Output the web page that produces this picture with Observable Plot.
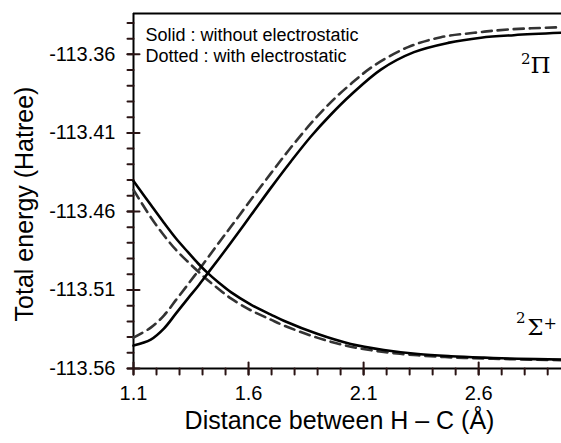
<!DOCTYPE html>
<html>
<head>
<meta charset="utf-8">
<script src="https://cdn.jsdelivr.net/npm/d3@7"></script>
<script src="https://cdn.jsdelivr.net/npm/@observablehq/plot@0.6"></script>
<style>
  html, body { margin: 0; padding: 0; background: #fff; }
</style>
</head>
<body>
<div id="chart"></div>
<script>
// Tick values
const xMajor = [1.1, 1.6, 2.1, 2.6];
const xMinor = [1.1, 1.2, 1.3, 1.4, 1.5, 1.6, 1.7, 1.8, 1.9, 2.0, 2.1, 2.2, 2.3, 2.4, 2.5, 2.6, 2.7, 2.8, 2.9];
const yMajor = [-113.56, -113.51, -113.46, -113.41, -113.36];
const yMinor = [-113.56, -113.55, -113.54, -113.53, -113.52, -113.51, -113.50, -113.49, -113.48, -113.47,
                -113.46, -113.45, -113.44, -113.43, -113.42, -113.41, -113.40, -113.39, -113.38, -113.37,
                -113.36, -113.35, -113.34];
const xDomain = [1.1, 2.96];
const yDomain = [-113.56, -113.334];

// 2Π state, without electrostatic (solid)
const piSolidX = [1.1, 1.175, 1.232, 1.284, 1.336, 1.380, 1.423, 1.471, 1.523, 1.610, 1.697, 1.784, 1.871, 1.958, 2.044, 2.175, 2.319, 2.467, 2.610, 2.753, 2.958];
const piSolidE = [-113.5454, -113.5416, -113.5346, -113.5251, -113.5155, -113.5076, -113.4993, -113.4901, -113.4799, -113.4625, -113.4450, -113.4282, -113.4123, -113.3983, -113.3859, -113.3697, -113.3586, -113.3527, -113.3494, -113.3478, -113.3463];
// 2Π state, with electrostatic (dashed)
const piDashX = [1.1, 1.175, 1.232, 1.284, 1.336, 1.380, 1.423, 1.471, 1.523, 1.610, 1.697, 1.784, 1.871, 1.958, 2.044, 2.145, 2.293, 2.436, 2.580, 2.728, 2.958];
const piDashE = [-113.5403, -113.5340, -113.5263, -113.5165, -113.5066, -113.4981, -113.4895, -113.4799, -113.4698, -113.4526, -113.4358, -113.4193, -113.4040, -113.3904, -113.3789, -113.3672, -113.3554, -113.3491, -113.3463, -113.3442, -113.3427];
// 2Σ+ state, without electrostatic (solid)
const sigSolidX = [1.1, 1.175, 1.232, 1.284, 1.336, 1.380, 1.423, 1.471, 1.523, 1.610, 1.697, 1.753, 1.901, 2.044, 2.188, 2.336, 2.480, 2.623, 2.771, 2.958];
const sigSolidE = [-113.4406, -113.4558, -113.4672, -113.4771, -113.4858, -113.4930, -113.4993, -113.5054, -113.5114, -113.5193, -113.5257, -113.5296, -113.5381, -113.5444, -113.5482, -113.5508, -113.5522, -113.5531, -113.5538, -113.5543];
// 2Σ+ state, with electrostatic (dashed)
const sigDashX = [1.1, 1.175, 1.232, 1.284, 1.336, 1.380, 1.423, 1.471, 1.523, 1.610, 1.697, 1.753, 1.901, 2.044, 2.188, 2.336, 2.480, 2.623, 2.771, 2.958];
const sigDashE = [-113.4463, -113.4637, -113.4752, -113.4844, -113.4920, -113.4981, -113.5038, -113.5095, -113.5154, -113.5230, -113.5289, -113.5326, -113.5405, -113.5461, -113.5495, -113.5516, -113.5529, -113.5536, -113.5542, -113.5547];

const xLabel = "Distance between H \u2013 C (\u00c5)";
const yLabel = "Total energy (Hatree)";
const legendText = "Solid : without electrostatic\nDotted : with electrostatic";

const pts = (xs, ys) => xs.map((x, i) => ({x, y: ys[i]}));
const serif = "'DejaVu Serif', 'Liberation Serif', serif";
const tickShape = {draw(context, l) { context.moveTo(0, 0); context.lineTo(0, -l); }};
const tickStyle = {shape: tickShape, stroke: "#2a1414", strokeWidth: 2};

const chart = Plot.plot({
  width: 561,
  height: 443,
  marginLeft: 133,
  marginRight: 0,
  marginTop: 13,
  marginBottom: 75,
  x: {domain: xDomain},
  y: {domain: yDomain},
  style: {fontFamily: "'Liberation Sans', Arial, sans-serif", background: "#fff"},
  marks: [
    // tick labels
    Plot.axisX(xMajor, {tickSize: 0, tickPadding: 17, fontSize: 20, tickFormat: d => d.toFixed(1), label: null}),
    Plot.axisY(yMajor, {tickSize: 0, tickPadding: 18, fontSize: 20, tickFormat: d => d.toFixed(2), label: null}),
    // frame lines
    Plot.ruleX([xDomain[0]], {stroke: "#000", strokeWidth: 2}),
    Plot.ruleY([yDomain[0]], {stroke: "#000", strokeWidth: 2}),
    Plot.ruleY([yDomain[1]], {stroke: "#000", strokeWidth: 2}),
    // minor ticks (outward)
    Plot.vector(xMinor, {x: d => d, y: yDomain[0], length: 6, rotate: 180, anchor: "start", ...tickStyle}),
    Plot.vector(yMinor, {x: xDomain[0], y: d => d, length: 6, rotate: -90, anchor: "start", ...tickStyle}),
    // major ticks (crossing the axis)
    Plot.vector(xMajor, {x: d => d, y: yDomain[0], length: 12, rotate: 180, anchor: "middle", ...tickStyle}),
    Plot.vector(yMajor, {x: xDomain[0], y: d => d, length: 12, rotate: -90, anchor: "middle", ...tickStyle}),
    // curves
    Plot.line(pts(piDashX, piDashE), {x: "x", y: "y", curve: "catmull-rom", stroke: "#333", strokeWidth: 2.6, strokeDasharray: "10,6"}),
    Plot.line(pts(sigDashX, sigDashE), {x: "x", y: "y", curve: "catmull-rom", stroke: "#333", strokeWidth: 2.6, strokeDasharray: "10,6"}),
    Plot.line(pts(piSolidX, piSolidE), {x: "x", y: "y", curve: "catmull-rom", stroke: "#000", strokeWidth: 2.6}),
    Plot.line(pts(sigSolidX, sigSolidE), {x: "x", y: "y", curve: "catmull-rom", stroke: "#000", strokeWidth: 2.6}),
    // legend text
    Plot.text([legendText], {frameAnchor: "top-left", textAnchor: "start", lineAnchor: "top", dx: 12, dy: 12, fontSize: 18, lineHeight: 1.2, fill: "#000"}),
    // state labels: 2Π
    Plot.text(["\u03a0"], {frameAnchor: "top-right", textAnchor: "end", lineAnchor: "bottom", dx: -11, dy: 59, fontSize: 23, fontFamily: serif, fill: "#000"}),
    Plot.text(["2"], {frameAnchor: "top-right", textAnchor: "end", lineAnchor: "bottom", dx: -31, dy: 50, fontSize: 15, fontFamily: serif, fill: "#000"}),
    // state labels: 2Σ+
    Plot.text(["\u03a3"], {frameAnchor: "bottom-right", textAnchor: "end", lineAnchor: "bottom", dx: -18, dy: -34, fontSize: 23, fontFamily: serif, fill: "#000"}),
    Plot.text(["2"], {frameAnchor: "bottom-right", textAnchor: "end", lineAnchor: "bottom", dx: -36, dy: -46, fontSize: 15, fontFamily: serif, fill: "#000"}),
    Plot.text(["+"], {frameAnchor: "bottom-right", textAnchor: "start", lineAnchor: "bottom", dx: -18, dy: -40, fontSize: 16, fontFamily: serif, fill: "#000"}),
    // axis titles
    Plot.text([xLabel], {frameAnchor: "bottom", textAnchor: "middle", lineAnchor: "bottom", dx: -8, dy: 60, fontSize: 25, fill: "#000"}),
    Plot.text([yLabel], {frameAnchor: "left", rotate: -90, textAnchor: "middle", lineAnchor: "middle", dx: -109, dy: 13, fontSize: 25, fill: "#000"})
  ]
});
document.getElementById("chart").appendChild(chart);
</script>
</body>
</html>
